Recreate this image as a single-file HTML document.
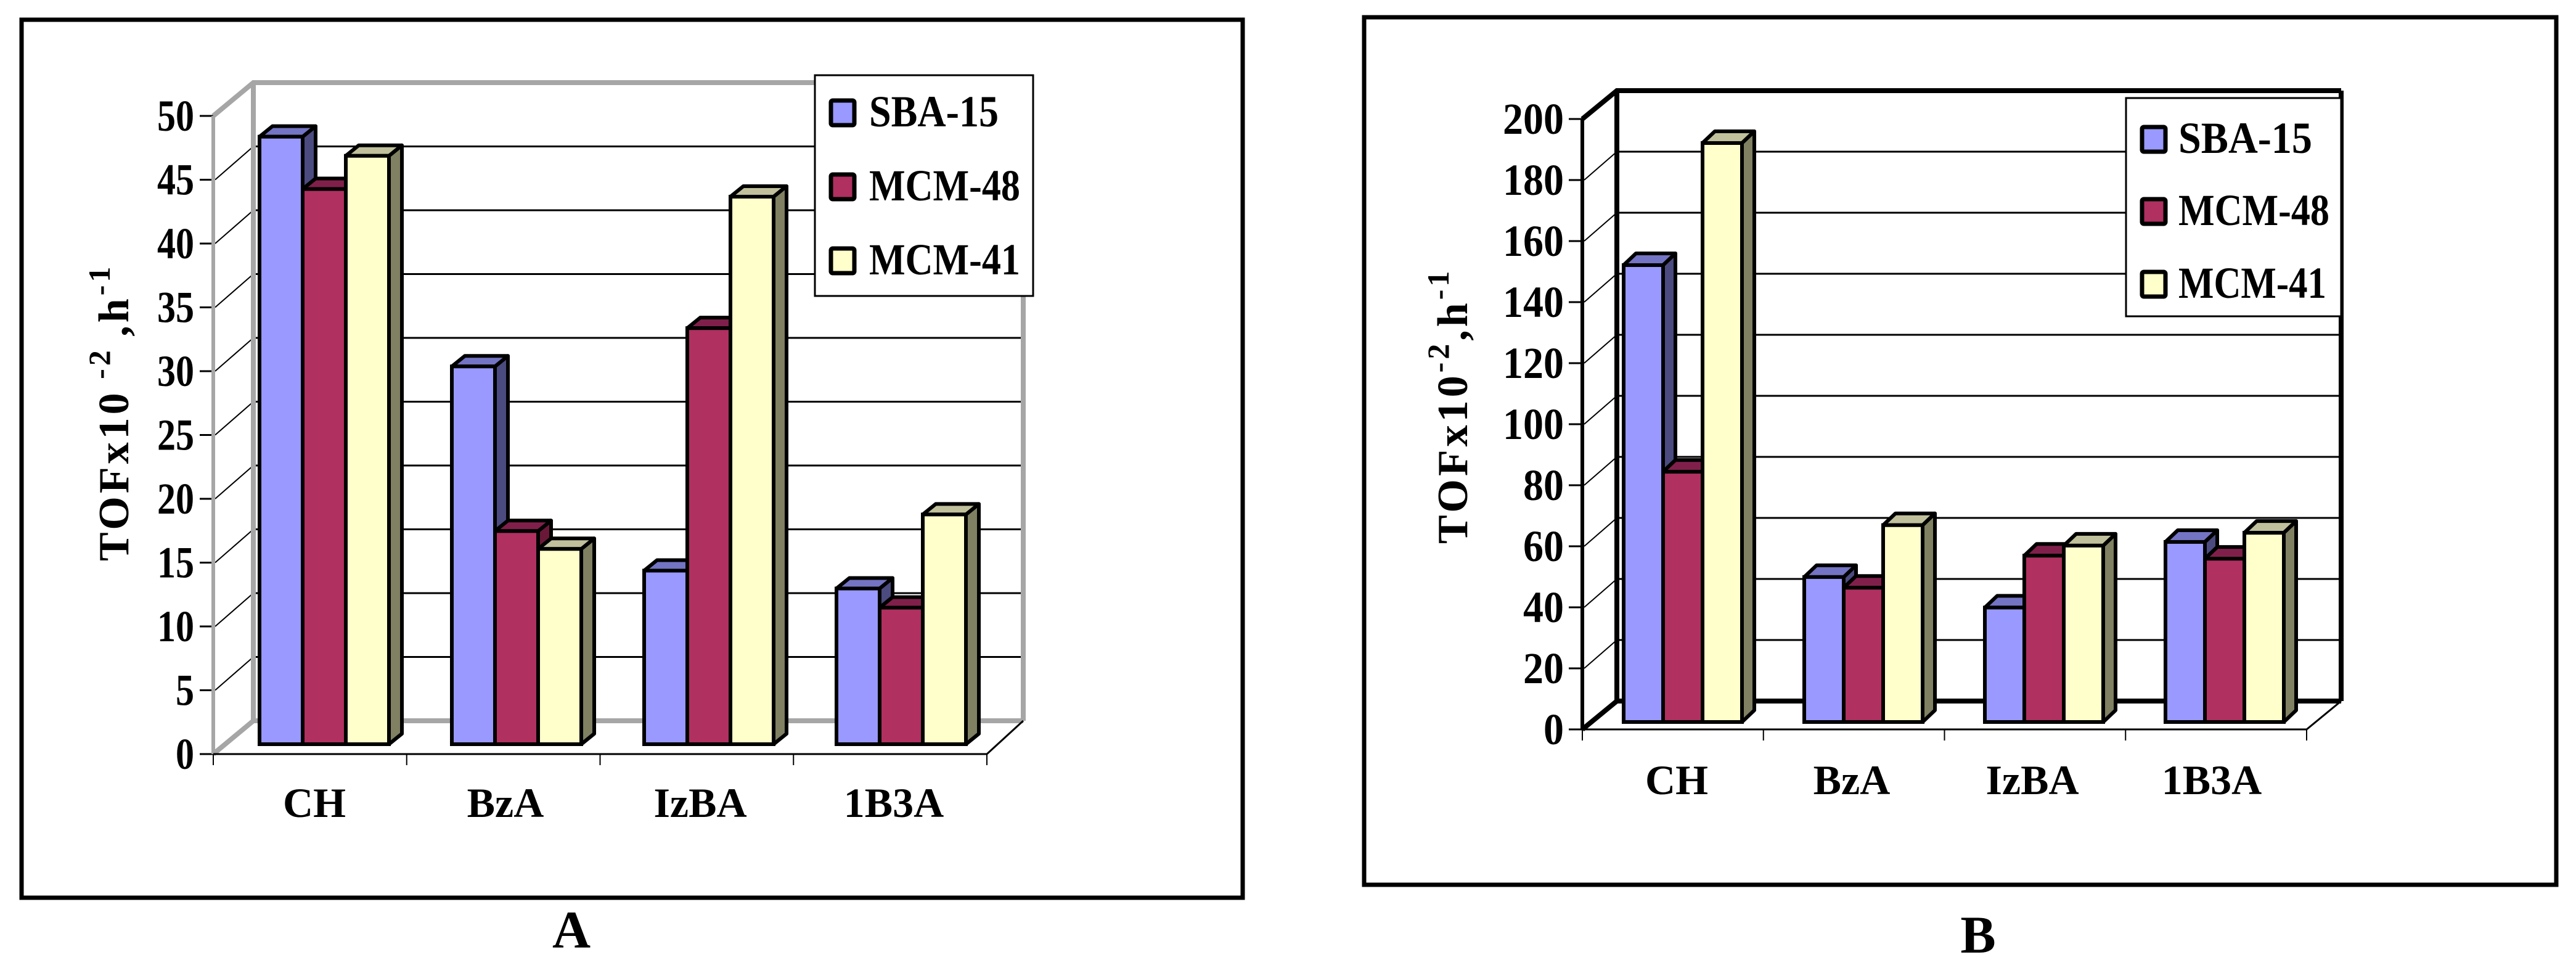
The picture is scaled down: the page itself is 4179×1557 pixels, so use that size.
<!DOCTYPE html>
<html><head><meta charset="utf-8">
<style>
html,body{margin:0;padding:0;background:#fff;}
svg{display:block;}
text{font-family:"Liberation Serif",serif;font-weight:bold;fill:#000;}
</style></head>
<body>
<svg id="root" width="4179" height="1557" viewBox="0 0 4179 1557" xmlns="http://www.w3.org/2000/svg">
  <rect x="0" y="0" width="4179" height="1557" fill="#fff"/>
  <rect x="35" y="32" width="1981" height="1424" fill="none" stroke="#000" stroke-width="7"/>
  <rect x="2213" y="28" width="1934" height="1407" fill="none" stroke="#000" stroke-width="7"/>
  <text x="927" y="1537" font-size="86" text-anchor="middle">A</text>
  <text x="3209" y="1545" font-size="86" text-anchor="middle">B</text>
  <g id="chartA"></g>
  <g id="chartB"></g>
</svg>
<script>
// ---- data ----
const categories = ["CH", "BzA", "IzBA", "1B3A"];
const seriesNames = ["SBA-15", "MCM-48", "MCM-41"];
const aSBA15 = [47.6, 29.6, 13.6, 12.2];
const aMCM48 = [43.5, 16.7, 32.6, 10.7];
const aMCM41 = [46.1, 15.3, 42.9, 18.0];
const aTicks = [0, 5, 10, 15, 20, 25, 30, 35, 40, 45, 50];
const bSBA15 = [149.7, 47.5, 37.5, 59.0];
const bMCM48 = [82.0, 44.0, 54.5, 53.5];
const bMCM41 = [189.7, 64.5, 57.8, 62.0];
const bTicks = [0, 20, 40, 60, 80, 100, 120, 140, 160, 180, 200];

const NS = "http://www.w3.org/2000/svg";
const FRONT = ["#9999ff", "#b03060", "#ffffcc"];
const TOP = ["#7474c4", "#80204a", "#c0c09c"];
const SIDE = ["#4b4b80", "#6a1838", "#808062"];

function mk(parent, tag, attrs) {
  const e = document.createElementNS(NS, tag);
  for (const k in attrs) e.setAttribute(k, attrs[k]);
  parent.appendChild(e);
  return e;
}

function drawChart(g, L, series, ticks) {
  const max = ticks[ticks.length - 1];
  const yF = v => L.f0 - v * (L.f0 - L.fTop) / max;
  const yB = v => yF(v) - L.dy;
  const yBar = v => L.bar0 - v * (L.f0 - L.fTop) / max;
  const wall = L.wall;

  ticks.forEach(t => {
    if (t > 0 && t < max) {
      const d = mk(g, "line", {x1: L.ax + 3, y1: yF(t), x2: L.ax + L.dx, y2: yB(t), stroke: "#000", "stroke-width": 2});
      
      
      const gl = mk(g, "line", {x1: L.ax + L.dx, y1: yB(t), x2: L.bx1, y2: yB(t), stroke: "#000", "stroke-width": 3});
      
      
    }
    const tk = mk(g, "line", {x1: L.ax - 22, y1: yF(t), x2: L.ax, y2: yF(t), stroke: "#000", "stroke-width": 3});
    
    
    const lb = mk(g, "text", {x: L.labR, y: yF(t) + 24, "font-size": 72, "text-anchor": "end", textLength: String(t).length * L.digitW, lengthAdjust: "spacingAndGlyphs"});
    lb.textContent = String(t);
    
    
  });
  const w1 = mk(g, "polyline", {points: `${L.ax},${yF(max)} ${L.ax + L.dx},${yB(max)} ${L.bx1},${yB(max)}`, fill: "none", stroke: wall, "stroke-width": 8});
  
  
  const w2 = mk(g, "line", {x1: L.ax + L.dx, y1: yB(max), x2: L.ax + L.dx, y2: yB(0), stroke: wall, "stroke-width": 8});
  
  
  const w3 = mk(g, "line", {x1: L.bx1, y1: yB(max), x2: L.bx1, y2: yB(0), stroke: wall, "stroke-width": 8});
  
  
  const w4 = mk(g, "polyline", {points: `${L.ax},${yF(0)} ${L.ax + L.dx},${yB(0)} ${L.bx1},${yB(0)}`, fill: "none", stroke: wall, "stroke-width": 8});
  
  
  const w5 = mk(g, "line", {x1: L.ax, y1: yF(max), x2: L.ax, y2: yF(0), stroke: wall, "stroke-width": 6});
  
  
  const w6 = mk(g, "polyline", {points: `${L.ax},${yF(0)} ${L.fx1},${yF(0)} ${L.bx1},${yB(0)}`, fill: "none", stroke: "#000", "stroke-width": 3});
  
  
  const cw = (L.fx1 - L.ax) / categories.length;
  for (let i = 0; i <= categories.length; i++) {
    const t = mk(g, "line", {x1: L.ax + cw * i, y1: yF(0), x2: L.ax + cw * i, y2: yF(0) + 18, stroke: "#000", "stroke-width": 2});
    
    
  }
  categories.forEach((c, i) => {
    series.forEach((vals, s) => {
      const v = vals[i];
      const x = L.bar1 + i * L.gap + s * L.bw;
      const yt = yBar(v), yb = L.bar0;
      const bg = mk(g, "g", {});
      
      
      mk(bg, "polygon", {points: `${x + L.bw},${yt} ${x + L.bw + L.ddx},${yt - L.ddy} ${x + L.bw + L.ddx},${yb - L.ddy} ${x + L.bw},${yb}`, fill: SIDE[s], stroke: "#000", "stroke-width": 6, "stroke-linejoin": "round"});
      mk(bg, "polygon", {points: `${x},${yt} ${x + L.ddx},${yt - L.ddy} ${x + L.bw + L.ddx},${yt - L.ddy} ${x + L.bw},${yt}`, fill: TOP[s], stroke: "#000", "stroke-width": 6, "stroke-linejoin": "round"});
      mk(bg, "rect", {x: x, y: yt, width: L.bw, height: yb - yt, fill: FRONT[s], stroke: "#000", "stroke-width": 6});
    });
    const cl = mk(g, "text", {x: L.catX[i], y: L.catY, "font-size": 68, "text-anchor": "middle"});
    cl.textContent = c;
    
    
  });
  const lg = mk(g, "g", {});
  
  
  mk(lg, "rect", {x: L.lx, y: L.ly, width: L.lw, height: L.lh, fill: "#fff", stroke: "#000", "stroke-width": 3});
  seriesNames.forEach((n, s) => {
    const e = mk(lg, "g", {});
    
    
    const by = L.lBase[s];
    mk(e, "rect", {x: L.sx, y: by - 42, width: 38, height: 40, fill: FRONT[s], stroke: "#000", "stroke-width": 7, rx: 3});
    const t = mk(e, "text", {x: L.tx, y: by, "font-size": 72, textLength: L.legW[s], lengthAdjust: "spacingAndGlyphs"});
    t.textContent = n;
  });
}

drawChart(document.getElementById("chartA"), {
  ax: 346, f0: 1223, fTop: 188, dx: 65, dy: 54, bx1: 1660, fx1: 1601, wall: "#a6a6a6",
  bar0: 1207, bar1: 421, gap: 312, bw: 70, ddx: 21, ddy: 17,
  labR: 315, digitW: 30, catX: [510, 820, 1136, 1450], catY: 1325,
  lx: 1322, ly: 122, lw: 354, lh: 358, sx: 1348, tx: 1410, lBase: [205, 325, 445], legW: [210, 245, 245]
}, [aSBA15, aMCM48, aMCM41], aTicks);

drawChart(document.getElementById("chartB"), {
  ax: 2567, f0: 1183, fTop: 193, dx: 56, dy: 46, bx1: 3798, fx1: 3742, wall: "#000",
  bar0: 1171, bar1: 2634, gap: 293, bw: 64, ddx: 20, ddy: 19,
  labR: 2537, digitW: 33, catX: [2720, 3004, 3297, 3588], catY: 1288,
  lx: 3449, ly: 159, lw: 349, lh: 354, sx: 3475, tx: 3534, lBase: [248, 365, 483], legW: [217, 245, 240]
}, [bSBA15, bMCM48, bMCM41], bTicks);
</script>
<script>
(function(){
  const root = document.getElementById("root");
  function title(x, y, supA, data) {
    const t = document.createElementNS("http://www.w3.org/2000/svg", "text");
    t.setAttribute("transform", `translate(${x},${y}) rotate(-90)`);
    t.setAttribute("font-size", "70");
    t.setAttribute("letter-spacing", "5");
    
    
    t.innerHTML = 'TOFx10<tspan font-size="50" dy="-30">' + supA + '</tspan><tspan dy="30">,h</tspan><tspan font-size="50" dy="-30">-1</tspan>';
    root.appendChild(t);
  }
  title(208, 910, " -2 ", "y-axis-title-a");
  title(2380, 882, "-2", "y-axis-title-b");
})();
</script>
</body></html>
